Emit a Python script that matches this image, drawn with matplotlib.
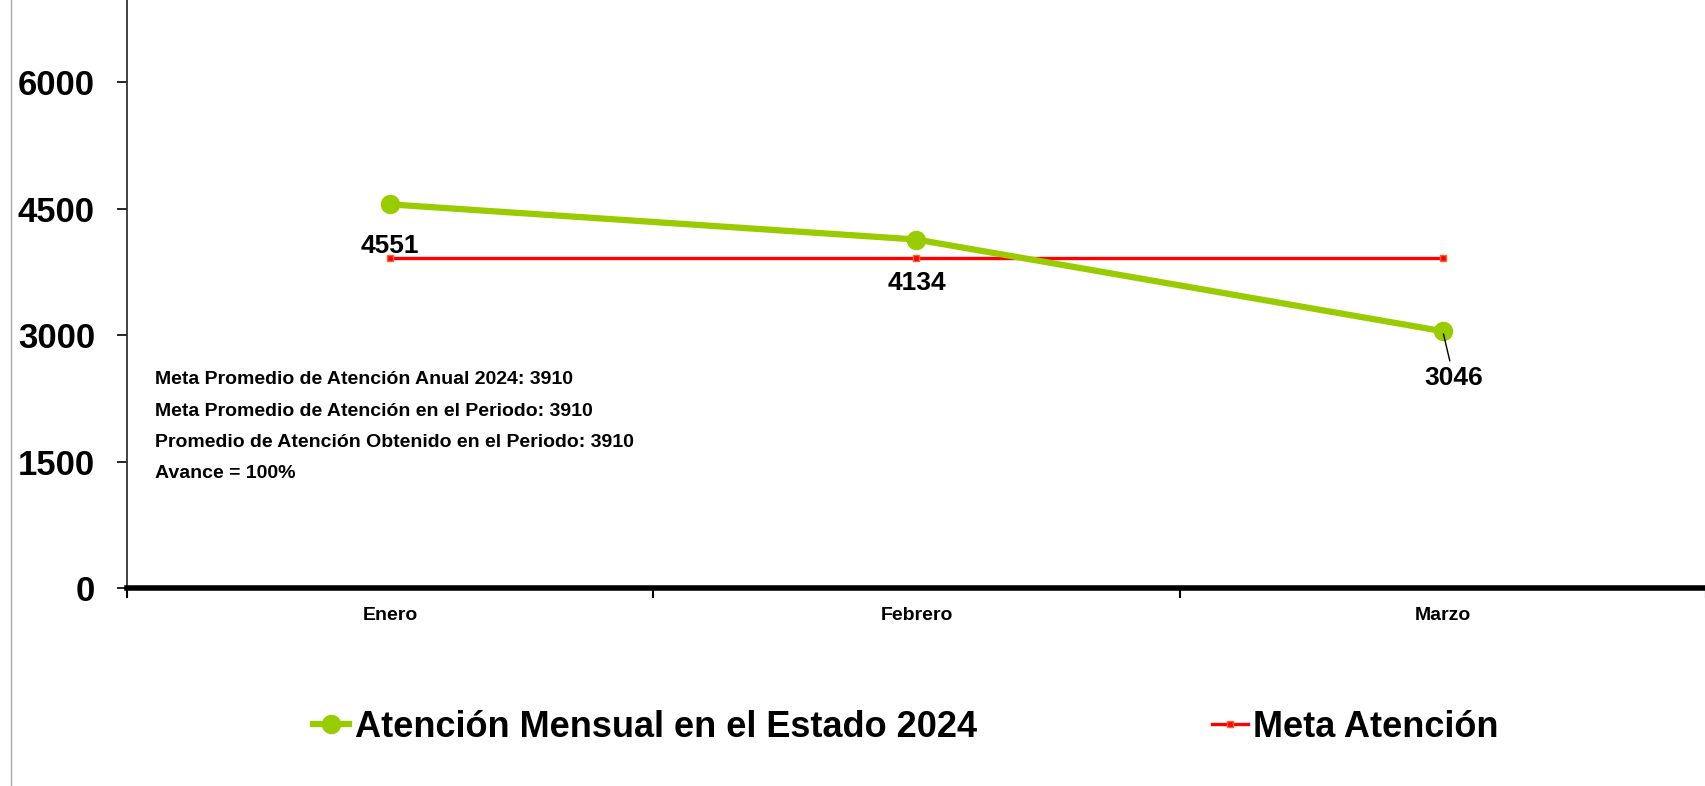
import matplotlib.pyplot as plt
from matplotlib.lines import Line2D

meses = ["Enero", "Febrero", "Marzo"]
atencion = [4551, 4134, 3046]
meta = [3910, 3910, 3910]
yticks = [0, 1500, 3000, 4500, 6000]
notas = [
    "Meta Promedio de Atención Anual 2024: 3910",
    "Meta Promedio de Atención en el Periodo: 3910",
    "Promedio de Atención Obtenido en el Periodo: 3910",
    "Avance = 100%",
]

plt.rcParams['font.family'] = ['Liberation Sans', 'DejaVu Sans']

fig = plt.figure(figsize=(17.06, 7.86), dpi=100)
ax = fig.add_axes([0.0744, 0.252, 0.9256, 0.748])

x = list(range(len(meses)))
ax.plot(x, atencion, color="#99CC00", lw=4.5, marker="o", markersize=13,
        label="Atención Mensual en el Estado 2024", zorder=3)
ax.plot(x, meta, color="#FF0000", lw=2.4, marker="s", markersize=5,
        markerfacecolor="#FF0000", markeredgecolor="#FF6030",
        label="Meta Atención", zorder=2)

# etiquetas de datos
offs = [(0, -30), (0, -31), (8, -34)]
for i, v in enumerate(atencion):
    arrow = dict(arrowstyle="-", color="black", lw=1) if i == 2 else None
    ax.annotate(str(v), (x[i], v), xytext=offs[i], textcoords="offset points",
                ha="center", va="center", fontsize=19, fontweight="bold",
                arrowprops=arrow)

ax.set_xlim(-0.5, 2.5)
ax.set_ylim(0, 6976)
ax.set_yticks(yticks)
ax.set_yticklabels([str(t) for t in yticks], fontsize=25, fontweight="bold")
ax.set_xticks(x)
ax.set_xticklabels(meses, fontsize=14, fontweight="bold")
ax.tick_params(axis="x", length=0, pad=14)
ax.set_xticks([-0.5, 0.5, 1.5, 2.5], minor=True)
ax.tick_params(axis="x", which="minor", length=7, width=1.5, direction="out")
ax.tick_params(axis="y", length=7, width=1.2, pad=16)

for s in ["top", "right"]:
    ax.spines[s].set_visible(False)
ax.spines["left"].set_color("#333333")
ax.spines["left"].set_linewidth(1.3)
ax.spines["bottom"].set_linewidth(4)

ax.text(-0.447, 2570, "\n".join(notas), fontsize=14,
        fontweight="bold", va="top", ha="left", linespacing=2.1)

fig.add_artist(Line2D([0.0065, 0.0065], [0, 1], color="#aaaaaa", lw=1))

fig.legend(loc="center", bbox_to_anchor=(0.531, 0.075), ncol=2, frameon=False,
           handlelength=1.0, handletextpad=0.15, columnspacing=6.5,
           prop={"weight": "bold", "size": 26})

fig.savefig("out.png", dpi=100)
